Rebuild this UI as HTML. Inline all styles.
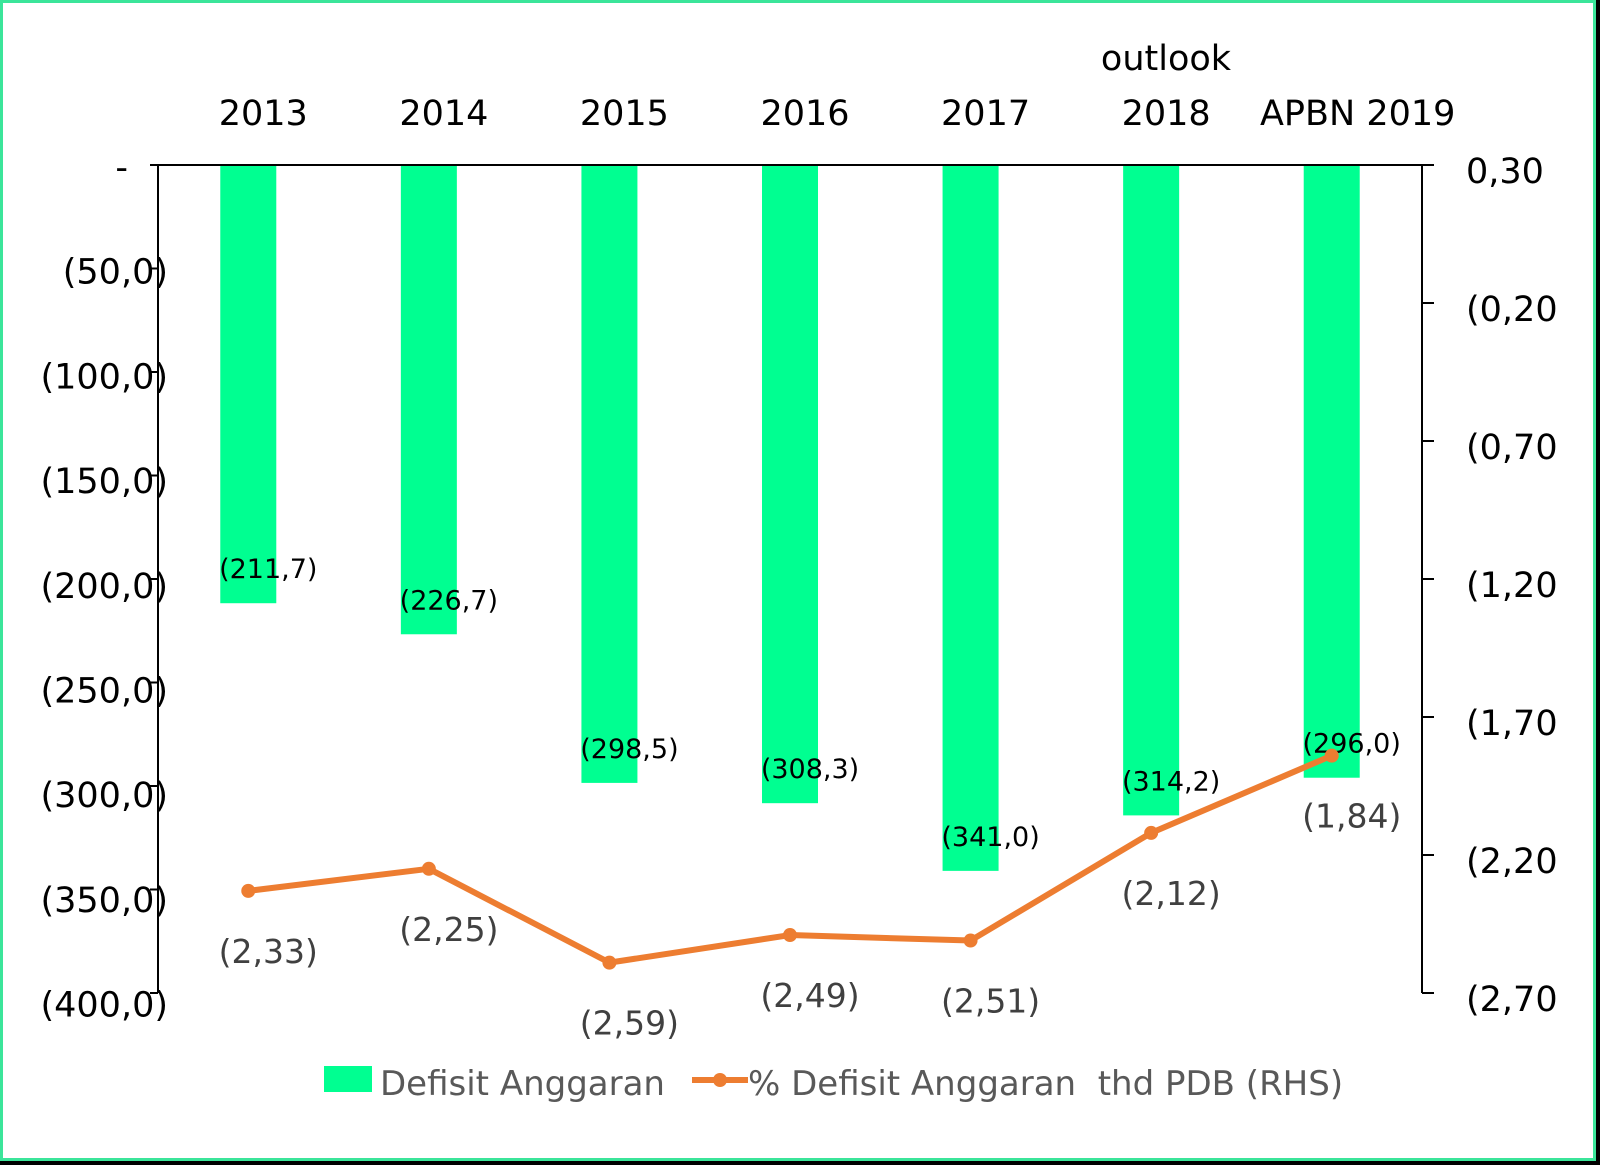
<!DOCTYPE html>
<html><head><meta charset="utf-8"><style>
body{margin:0;background:#fff}
svg{display:block;font-family:"DejaVu Sans","Liberation Sans",sans-serif}
text{white-space:pre}
</style></head><body>
<svg width="1600" height="1165" viewBox="0 0 1600 1165">
<rect x="0" y="0" width="1600" height="1165" fill="#000"/>
<rect x="0" y="0" width="1596" height="1161" fill="#3be59a"/>
<rect x="3" y="3" width="1590" height="1155" fill="#fff"/>
<g id="chart"></g>
</svg>
<script>
const categories=["2013","2014","2015","2016","2017","2018","APBN 2019"];
const deficit=[-211.7,-226.7,-298.5,-308.3,-341.0,-314.2,-296.0];
const deficitLabels=["(211,7)","(226,7)","(298,5)","(308,3)","(341,0)","(314,2)","(296,0)"];
const pct=[-2.33,-2.25,-2.59,-2.49,-2.51,-2.12,-1.84];
const pctLabels=["(2,33)","(2,25)","(2,59)","(2,49)","(2,51)","(2,12)","(1,84)"];
const leftTicks=[0,-50,-100,-150,-200,-250,-300,-350,-400];
const leftTickLabels=["-","(50,0)","(100,0)","(150,0)","(200,0)","(250,0)","(300,0)","(350,0)","(400,0)"];
const rightTicks=[0.3,-0.2,-0.7,-1.2,-1.7,-2.2,-2.7];
const rightTickLabels=["0,30","(0,20","(0,70","(1,20","(1,70","(2,20","(2,70"];

const NS="http://www.w3.org/2000/svg";
const g=document.getElementById('chart');
const X0=158,X1=1422,Y0=165,Y1=993;
const bw=(X1-X0)/categories.length;
const xC=i=>X0+bw*(i+0.5);
const yL=v=>Y0+(0-v)/400*(Y1-Y0);
const yR=v=>Y0+(0.3-v)/3*(Y1-Y0);
function el(t,a,txt){const e=document.createElementNS(NS,t);for(const k in a)e.setAttribute(k,a[k]);if(txt!==undefined)e.textContent=txt;g.appendChild(e);return e;}

deficit.forEach((v,i)=>{
 const r=el('rect',{x:xC(i)-28,y:Y0,width:56,height:yL(v)-Y0,fill:'#00ff91'});
 
 
});
let a=el('path',{d:`M150 ${Y0}H${X1}M${X0} ${Y0}V${Y1}M${X1} ${Y0}V${Y1}`,stroke:'#000','stroke-width':2,fill:'none'});


leftTicks.forEach((v,i)=>{
 el('line',{x1:150,x2:158,y1:yL(v),y2:yL(v),stroke:'#000','stroke-width':2});
 const t=el('text',{x:i==0?128:168,y:yL(v)+i*1.2+14,'text-anchor':'end','font-size':35,fill:'#000'},leftTickLabels[i]);
 
 
});
rightTicks.forEach((v,i)=>{
 el('line',{x1:X1,x2:X1+12,y1:yR(v),y2:yR(v),stroke:'#000','stroke-width':2});
 const t=el('text',{x:1466,y:yR(v)+18,'font-size':35,fill:'#000'},rightTickLabels[i]);
 
 
});
categories.forEach((c,i)=>{
 const t=el('text',{x:xC(i)+(i==6?26:15),y:125,'text-anchor':'middle','font-size':35,fill:'#000'},c);
 
 
});
let o=el('text',{x:1166,y:70,'text-anchor':'middle','font-size':35,fill:'#000'},'outlook');


deficit.forEach((v,i)=>{
 const t=el('text',{x:xC(i)+20,y:yL(v)-25,'text-anchor':'middle','font-size':27,fill:'#000'},deficitLabels[i]);
 
 
});
const pts=pct.map((v,i)=>[xC(i),yR(v)]);
let ln=el('polyline',{points:pts.map(p=>p.join(',')).join(' '),fill:'none',stroke:'#ed7d31','stroke-width':6,'stroke-linejoin':'round'});


pts.forEach((p,i)=>{
 const c=el('circle',{cx:p[0],cy:p[1],r:7,fill:'#ed7d31'});
 
 
 const t=el('text',{x:p[0]+20,y:p[1]+72,'text-anchor':'middle','font-size':33,fill:'#404040'},pctLabels[i]);
 
 
});
let l1=el('rect',{x:324,y:1066,width:48,height:26,fill:'#00ff91'});


let lt1=el('text',{x:380,y:1095,'font-size':34,fill:'#595959'},'Defisit Anggaran');


let l2=el('line',{x1:692,x2:748,y1:1080,y2:1080,stroke:'#ed7d31','stroke-width':6});


el('circle',{cx:720,cy:1080,r:7,fill:'#ed7d31'});
let lt2=el('text',{x:748,y:1095,'font-size':34,fill:'#595959'},'% Defisit Anggaran  thd PDB (RHS)');


</script>
</body></html>
